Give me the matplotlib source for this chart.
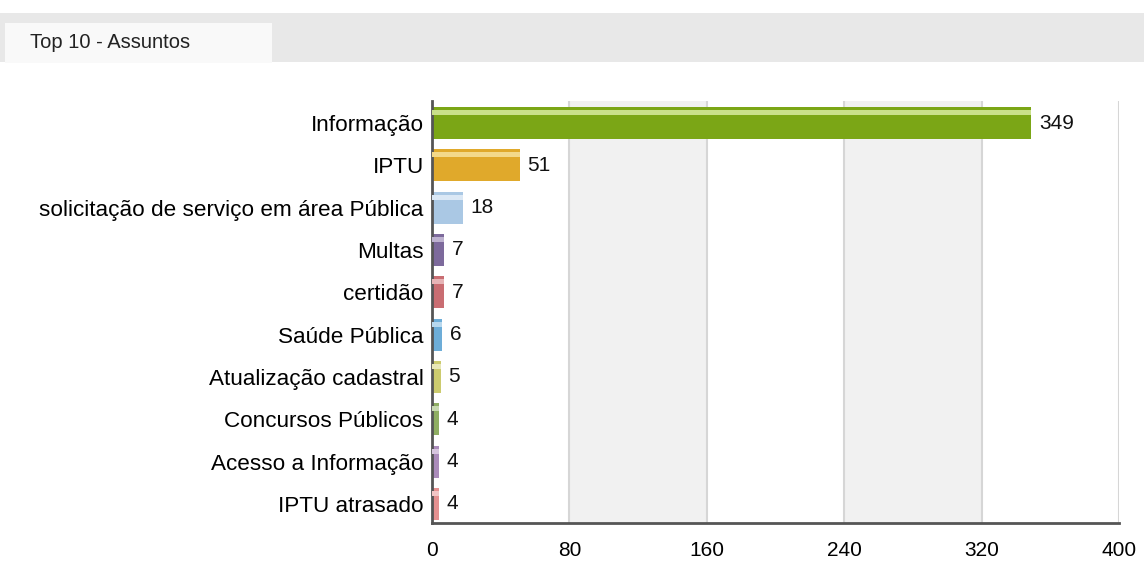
import matplotlib.pyplot as plt
from matplotlib.patches import Rectangle

plt.rcParams['font.family'] = ['Liberation Sans', 'DejaVu Sans']

# data
assuntos = ['Informação', 'IPTU', 'solicitação de serviço em área Pública', 'Multas',
            'certidão', 'Saúde Pública', 'Atualização cadastral', 'Concursos Públicos',
            'Acesso a Informação', 'IPTU atrasado']
totais = [349, 51, 18, 7, 7, 6, 5, 4, 4, 4]
cores = ['#7ba616', '#e0a92b', '#aac8e4', '#7d6a9c', '#c96d72',
         '#6dadd8', '#cccb6e', '#8fae62', '#ab8cbb', '#e59191']
realce = ['#c9e08a', '#f3d98a', '#dbe8f5', '#bdb2cf', '#e6b4b6',
          '#b8d8ee', '#e8e7b8', '#c8d9b0', '#d6c5de', '#f2c6c6']
xticks = [0, 80, 160, 240, 320, 400]

fig = plt.figure(figsize=(11.44, 5.68), dpi=100)

# cabecalho com aba
fig.patches.append(Rectangle((0, 0.891), 1, 0.086, transform=fig.transFigure,
                             facecolor='#e8e8e8', edgecolor='none', zorder=0))
fig.patches.append(Rectangle((0.004, 0.889), 0.234, 0.071, transform=fig.transFigure,
                             facecolor='#f9f9f9', edgecolor='none', zorder=1))
fig.text(0.026, 0.926, 'Top 10 - Assuntos', fontsize=14.5, color='#222222',
         va='center', ha='left')

ax = fig.add_axes([0.3776, 0.0792, 0.6005, 0.743])

# faixas alternadas de fundo
for i in range(len(xticks) - 1):
    if i % 2 == 1:
        ax.axvspan(xticks[i], xticks[i + 1], color='#f1f1f1', zorder=0, lw=0)
for t in xticks[1:]:
    ax.axvline(t, color='#d6d6d6', lw=1.5, zorder=0.5)

pos = list(range(len(assuntos)))
ax.barh(pos, totais, height=0.76, color=cores, zorder=2)
ax.barh([p - 0.25 for p in pos], totais, height=0.12, color=realce, zorder=3)

for p, v in zip(pos, totais):
    ax.text(v + 4.5, p, str(v), va='center', ha='left', fontsize=15, color='#111111')

ax.set_yticks(pos)
ax.set_yticklabels(assuntos, fontsize=16.2)
ax.set_xticks(xticks)
ax.set_xticklabels([str(t) for t in xticks], fontsize=15)
ax.set_xlim(0, 400)
ax.set_ylim(9.45, -0.52)
ax.tick_params(length=0, pad=6)
ax.tick_params(axis='x', pad=13)

for s in ['top', 'right']:
    ax.spines[s].set_visible(False)
for s in ['left', 'bottom']:
    ax.spines[s].set_color('#555555')
    ax.spines[s].set_linewidth(2)

fig.savefig('out.png', dpi=100)
